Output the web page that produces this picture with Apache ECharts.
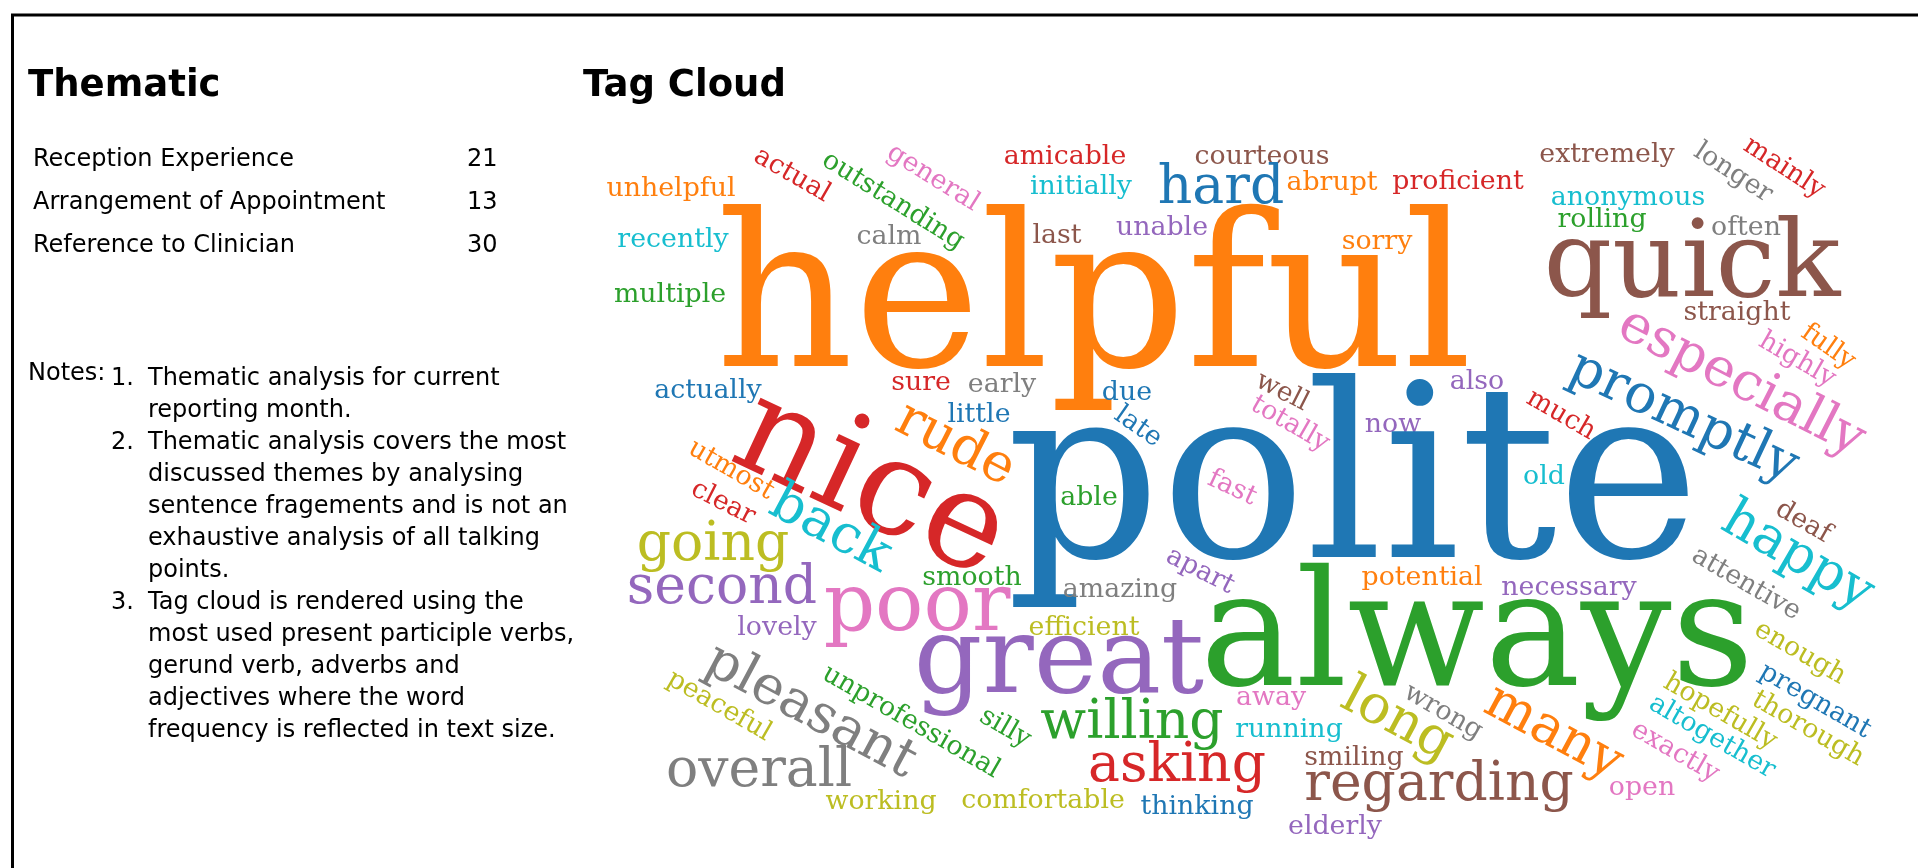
<!DOCTYPE html>
<html>
<head>
<meta charset="utf-8">
<script src="https://cdn.jsdelivr.net/npm/echarts@6/dist/echarts.min.js"></script>
<style>
    html, body {margin: 0; padding: 0; background: #fff;}
    #chart {width: 1918px; height: 868px;}
</style>
</head>
<body>
<div id="chart"></div>
<script>
// thematic table
const themeNames = ['Reception Experience', 'Arrangement of Appointment', 'Reference to Clinician'];
const themeCounts = [21, 13, 30];

const noteItems = [
    ['Thematic analysis for current', 'reporting month.'],
    ['Thematic analysis covers the most', 'discussed themes by analysing', 'sentence fragements and is not an',
        'exhaustive analysis of all talking', 'points.'],
    ['Tag cloud is rendered using the', 'most used present participle verbs,', 'gerund verb, adverbs and',
        'adjectives where the word', 'frequency is reflected in text size.']
];

// tag cloud words and their frequency
const tagWords = ['unhelpful', 'actual', 'outstanding', 'general', 'amicable', 'initially', 'recently', 'calm', 'last',
    'multiple', 'actually', 'sure', 'early', 'little', 'helpful', 'courteous', 'hard', 'abrupt', 'proficient', 'unable',
    'sorry', 'due', 'well', 'totally', 'late', 'also', 'now', 'much', 'extremely', 'longer', 'mainly', 'anonymous',
    'rolling', 'quick', 'often', 'straight', 'especially', 'promptly', 'nice', 'rude', 'polite', 'always', 'great',
    'poor', 'back', 'going', 'second', 'smooth', 'lovely', 'utmost', 'clear', 'pleasant', 'peaceful', 'unprofessional',
    'silly', 'overall', 'working', 'comfortable', 'able', 'fast', 'apart', 'amazing', 'efficient', 'potential',
    'necessary', 'old', 'away', 'running', 'willing', 'asking', 'thinking', 'elderly', 'smiling', 'regarding', 'long',
    'wrong', 'many', 'deaf', 'happy', 'attentive', 'enough', 'pregnant', 'thorough', 'hopefully', 'altogether',
    'exactly', 'open', 'fully', 'highly'];
const tagCounts = [1, 1, 1, 1, 1, 1, 1, 1, 1,
    1, 1, 1, 1, 1, 8, 1, 2, 1, 1, 1,
    1, 1, 1, 1, 1, 1, 1, 1, 1, 1, 1, 1,
    1, 4, 1, 1, 2, 2, 5, 2, 9, 6, 4,
    3, 2, 2, 2, 1, 1, 1, 1, 2, 1, 1,
    1, 2, 1, 1, 1, 1, 1, 1, 1, 1,
    1, 1, 1, 1, 2, 2, 1, 1, 1, 2, 2,
    1, 2, 1, 2, 1, 1, 1, 1, 1, 1,
    1, 1, 1, 1];
// index into the tab10 palette
const tagColors = [1, 3, 2, 6, 3, 9, 9, 7, 5,
    2, 0, 3, 7, 0, 1, 5, 0, 1, 3, 4,
    1, 0, 5, 6, 0, 4, 4, 3, 5, 7, 3, 9,
    2, 5, 7, 5, 6, 0, 3, 1, 0, 2, 4,
    6, 9, 8, 4, 2, 4, 1, 3, 7, 8, 2,
    2, 7, 8, 8, 2, 6, 4, 7, 8, 1,
    4, 9, 6, 9, 2, 3, 0, 4, 5, 5, 8,
    7, 1, 5, 9, 7, 8, 0, 8, 8, 9,
    6, 6, 1, 6];
// cloud layout: centre of each word and its angle
const tagX = [671, 792, 893, 933, 1065, 1081, 673, 889, 1057,
    670, 708, 921, 1002, 979, 1094, 1262, 1221, 1332, 1458, 1162,
    1377, 1127, 1282, 1290, 1138, 1477, 1393, 1561, 1607, 1733, 1784, 1628,
    1602, 1692, 1746, 1737, 1741, 1683, 870, 955, 1353, 1477, 1059,
    917, 830, 713, 722, 972, 777, 731, 723, 810, 719, 911,
    1005, 759, 881, 1043, 1089, 1232, 1200, 1120, 1084, 1422,
    1569, 1544, 1271, 1289, 1132, 1177, 1197, 1335, 1354, 1439, 1397,
    1443, 1553, 1803, 1797, 1746, 1800, 1815, 1808, 1720, 1712,
    1675, 1642, 1828, 1797];
const tagY = [189, 175, 201, 178, 157, 187, 240, 237, 236,
    295, 391, 383, 385, 415, 310, 157, 189, 183, 182, 228,
    242, 393, 392, 424, 427, 382, 425, 415, 155, 173, 168, 198,
    220, 268, 228, 313, 383, 418, 487, 445, 494, 643, 664,
    609, 530, 546, 589, 578, 628, 470, 503, 712, 706, 722,
    728, 772, 802, 801, 498, 488, 571, 590, 628, 578,
    588, 477, 698, 730, 724, 767, 807, 827, 758, 786, 721,
    712, 733, 522, 557, 584, 653, 701, 729, 712, 737,
    752, 788, 347, 360];
const tagAngle = [0, -30, -32, -32, 0, 0, 0, 0, 0,
    0, 0, 0, 0, 0, 0, 0, 0, 0, 0, 0,
    0, 0, -27, -30, -35, 0, 0, -30, 0, -33, -33, 0,
    0, 0, 0, 0, -27, -25, -25, -27, 0, 0, 0,
    0, -28, 0, 0, 0, 0, -30, -27, -28, -30, -30,
    -30, 0, 0, 0, 0, -25, -27, 0, 0, 0,
    0, 0, 0, 0, 0, 0, 0, 0, 0, 0, -28,
    -30, -28, -30, -30, -30, -30, -30, -30, -30, -30,
    -30, 0, -35, -30];

const palette = ['#1f77b4', '#ff7f0e', '#2ca02c', '#d62728', '#9467bd',
    '#8c564b', '#e377c2', '#7f7f7f', '#bcbd22', '#17becf'];
const sizeUnit = 26.8;

let myChart = echarts.init(document.getElementById('chart'));

function sansText(str, x, baseline, size)
{
    return {
        type: 'text',
        silent: true,
        style: {
            text: str,
            x: x,
            y: baseline - size * 0.27,
            fill: '#000',
            font: size + 'px "DejaVu Sans"',
            textVerticalAlign: 'middle'
        }
    };
}

let graphics = [{
    type: 'rect',
    silent: true,
    shape: {x: 12.5, y: 15, width: 2000, height: 1000},
    style: {fill: 'none', stroke: '#000', lineWidth: 3}
}];

themeNames.forEach(function (name, i)
{
    graphics.push(sansText(name, 33, 166 + i * 43.3, 24));
    graphics.push(sansText(String(themeCounts[i]), 467, 166 + i * 43.3, 24));
});

graphics.push(sansText('Notes:', 28, 380, 24));
let line = 0;
noteItems.forEach(function (item, i)
{
    graphics.push(sansText((i + 1) + '.', 111, 385 + line * 32, 24));
    item.forEach(function (txt)
    {
        graphics.push(sansText(txt, 148, 385 + line * 32, 24));
        line++;
    });
});

let option = {
    animation: false,
    title: [
        {text: 'Thematic', left: 23, top: 63, textStyle: {fontFamily: 'DejaVu Sans', fontSize: 37, fontWeight: 'bold', color: '#000'}},
        {text: 'Tag Cloud', left: 578, top: 63, textStyle: {fontFamily: 'DejaVu Sans', fontSize: 37, fontWeight: 'bold', color: '#000'}}
    ],
    grid: {left: 0, right: 0, top: 0, bottom: 0},
    xAxis: {type: 'value', min: 0, max: 1918, show: false},
    yAxis: {type: 'value', min: 0, max: 868, inverse: true, show: false},
    graphic: graphics,
    series: [{
        type: 'scatter',
        silent: true,
        symbolSize: 1,
        itemStyle: {color: 'rgba(0,0,0,0)', opacity: 1},
        emphasis: {disabled: true},
        label: {
            show: true,
            position: 'inside',
            formatter: '{b}',
            fontFamily: 'DejaVu Serif',
            align: 'center',
            verticalAlign: 'middle',
            textBorderWidth: 0,
            opacity: 1
        },
        data: tagWords.map(function (word, i)
        {
            return {
                name: word,
                value: [tagX[i], tagY[i]],
                label: {
                    fontSize: tagCounts[i] * sizeUnit,
                    color: palette[tagColors[i]],
                    rotate: tagAngle[i]
                }
            };
        })
    }]
};

myChart.setOption(option);
</script>
</body>
</html>
